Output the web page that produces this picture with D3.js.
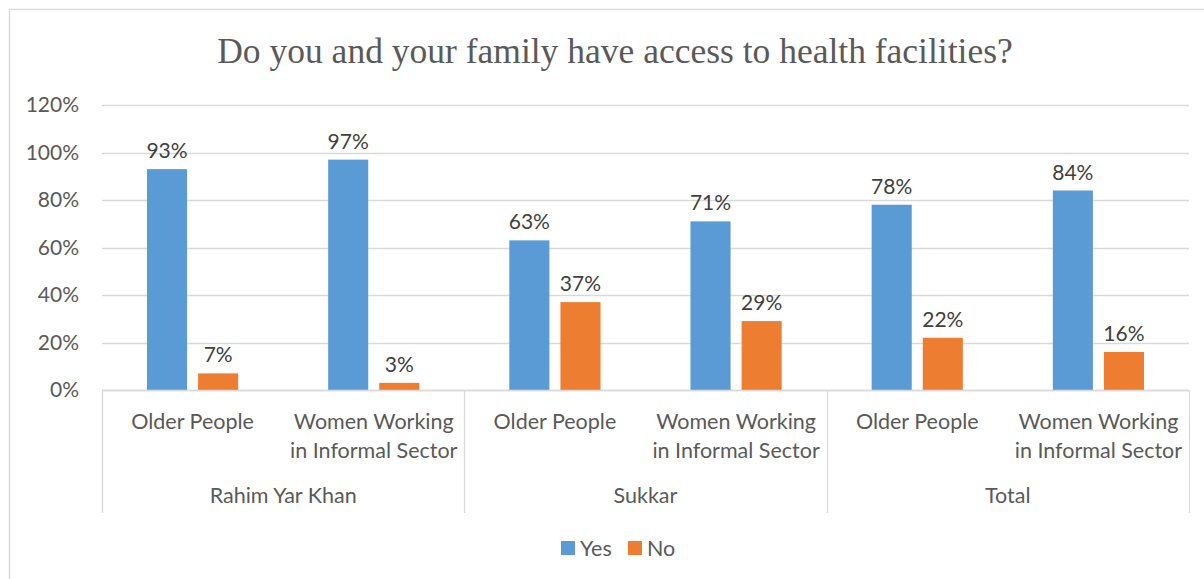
<!DOCTYPE html>
<html><head><meta charset="utf-8">
<script src="https://cdn.jsdelivr.net/npm/d3@7"></script>
<style>
body{margin:0;background:#fff;}
svg{display:block;}
</style></head>
<body>
<svg id="chart" width="1204" height="579"></svg>
<script>
const groups = ["Rahim Yar Khan", "Sukkar", "Total"];
const subCategories = ["Older People", "Women Working\nin Informal Sector"];
const seriesNames = ["Yes", "No"];
const yesValues = [93, 97, 63, 71, 78, 84];
const noValues = [7, 3, 37, 29, 22, 16];
const yTicks = [0, 20, 40, 60, 80, 100, 120];
const colors = ["#5B9BD5", "#ED7D31"];

(function() {
const svg = d3.select("#chart");
const font = "Lato, 'Open Sans', sans-serif";
const textColor = "#595959";

// outer border
svg.append("rect").attr("x", 9.5).attr("y", 9.5).attr("width", 1300).attr("height", 700)
  .attr("fill", "none").attr("stroke", "#d9d9d9").attr("stroke-width", 1.5);

// title
svg.append("text").attr("x", 615).attr("y", 63).attr("text-anchor", "middle")
  .attr("font-family", "'Liberation Serif', serif").attr("font-size", 35.5)
  .attr("fill", textColor).text("Do you and your family have access to health facilities?");

const pLeft = 102, pRight = 1189, pTop = 105, pBottom = 390;
const y = d3.scaleLinear().domain([0, 120]).range([pBottom, pTop]);

// flattened categories
const cats = [];
groups.forEach((g, gi) => subCategories.forEach((s, si) => cats.push({g, s, key: gi + "_" + si})));
const x0 = d3.scaleBand().domain(cats.map(c => c.key)).range([pLeft, pRight]).padding(0);
const xg = d3.scaleBand().domain(groups).range([pLeft, pRight]).padding(0);
const x1 = d3.scaleBand().domain(seriesNames).range([0, x0.bandwidth()]).paddingInner(0.216).paddingOuter(0.88);

// gridlines
svg.append("g").selectAll("line").data(yTicks).join("line")
  .attr("x1", pLeft).attr("x2", pRight)
  .attr("y1", d => Math.round(y(d)) + 0.5).attr("y2", d => Math.round(y(d)) + 0.5)
  .attr("stroke", "#d9d9d9").attr("stroke-width", 1.3);

// y tick labels
svg.append("g").selectAll("text").data(yTicks).join("text")
  .attr("x", 79).attr("y", d => y(d)).attr("dy", "0.35em").attr("text-anchor", "end")
  .attr("font-family", font).attr("font-size", 21).attr("fill", textColor)
  .text(d => d + "%");

// bars
const data = cats.map((c, i) => ({c, vals: [yesValues[i], noValues[i]]}));
const catG = svg.append("g").selectAll("g").data(data).join("g")
  .attr("transform", d => `translate(${x0(d.c.key)},0)`);
catG.selectAll("rect").data(d => d.vals.map((v, i) => ({v, s: seriesNames[i], i}))).join("rect")
  .attr("x", d => x1(d.s)).attr("width", x1.bandwidth())
  .attr("y", d => y(d.v)).attr("height", d => y(0) - y(d.v))
  .attr("fill", d => colors[d.i]);
catG.selectAll("text").data(d => d.vals.map((v, i) => ({v, s: seriesNames[i], i}))).join("text")
  .attr("x", d => x1(d.s) + x1.bandwidth() / 2).attr("y", d => y(d.v) - 11)
  .attr("text-anchor", "middle").attr("font-family", font).attr("font-size", 21)
  .attr("fill", "#404040").text(d => d.v + "%");

// category axis box
const axisG = svg.append("g");
axisG.append("line").attr("x1", pLeft).attr("x2", pRight).attr("y1", pBottom + 0.5).attr("y2", pBottom + 0.5)
  .attr("stroke", "#d9d9d9").attr("stroke-width", 1.3);
const seps = groups.map(g => xg(g)).concat([pRight]);
axisG.selectAll("line.sep").data(seps).join("line").attr("class", "sep")
  .attr("x1", d => Math.round(d) + 0.5).attr("x2", d => Math.round(d) + 0.5)
  .attr("y1", pBottom).attr("y2", 513).attr("stroke", "#d9d9d9").attr("stroke-width", 1.3);

// sub-category labels
const subLab = axisG.selectAll("text.sub").data(cats).join("text").attr("class", "sub")
  .attr("text-anchor", "middle").attr("font-family", font).attr("font-size", 21.5).attr("fill", textColor);
subLab.each(function(d) {
  const lines = d.s.split("\n");
  const cx = x0(d.key) + x0.bandwidth() / 2;
  d3.select(this).selectAll("tspan").data(lines).join("tspan")
    .attr("x", cx).attr("y", (l, i) => 429 + i * 29).text(l => l);
});
// group labels
axisG.selectAll("text.grp").data(groups).join("text").attr("class", "grp")
  .attr("x", d => xg(d) + xg.bandwidth() / 2).attr("y", 503)
  .attr("text-anchor", "middle").attr("font-family", font).attr("font-size", 21.5)
  .attr("fill", textColor).text(d => d);

// legend
const legendX = [561, 628];
const leg = svg.append("g").selectAll("g").data(seriesNames).join("g")
  .attr("transform", (d, i) => `translate(${legendX[i]},541)`);
leg.append("rect").attr("width", 14).attr("height", 14).attr("fill", (d, i) => colors[i]);
leg.append("text").attr("x", 19).attr("y", 7).attr("dy", "0.35em")
  .attr("font-family", font).attr("font-size", 21.5).attr("fill", textColor).text(d => d);
})();
</script>
</body></html>
